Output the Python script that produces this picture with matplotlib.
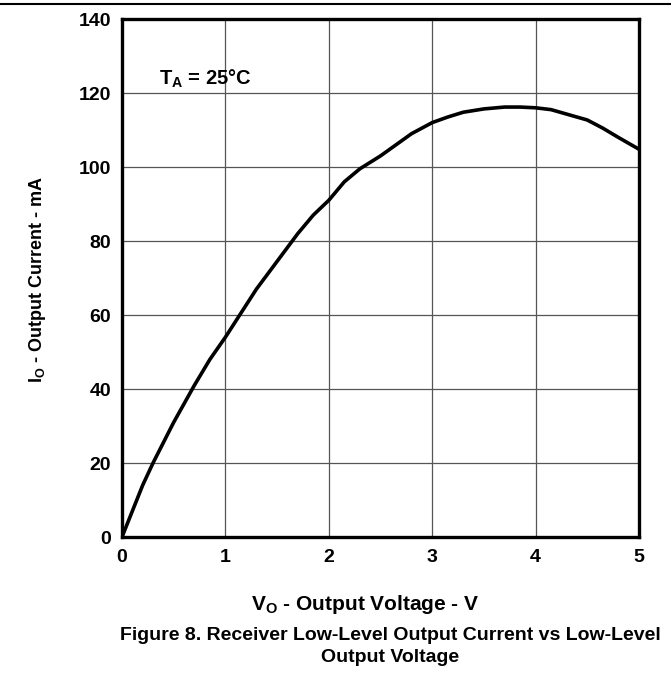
import matplotlib
matplotlib.use("Agg")
import matplotlib.pyplot as plt
from matplotlib.lines import Line2D

plt.rcParams['font.family'] = ['Liberation Sans', 'DejaVu Sans']
plt.rcParams['mathtext.fontset'] = 'custom'
plt.rcParams['mathtext.rm'] = 'Liberation Sans:bold'
plt.rcParams['mathtext.it'] = 'Liberation Sans:bold'
plt.rcParams['mathtext.bf'] = 'Liberation Sans:bold'

voltage = [0.0, 0.1, 0.2, 0.3, 0.5, 0.7, 0.85, 1.0, 1.15, 1.3, 1.5, 1.7, 1.85, 2.0, 2.15, 2.3,
           2.5, 2.65, 2.8, 3.0, 3.15, 3.3, 3.5, 3.7, 3.85, 4.0, 4.15, 4.3, 4.5, 4.65, 4.8, 5.0]
current = [0.0, 7.0, 14.0, 20.0, 31.0, 41.0, 48.0, 54.0, 60.5, 67.0, 74.5, 82.0, 87.0, 91.0, 96.0, 99.5,
           103.0, 106.0, 109.0, 112.0, 113.5, 114.8, 115.7, 116.2, 116.2, 116.0, 115.5, 114.3, 112.7, 110.5, 108.0, 104.8]

xticks = [0, 1, 2, 3, 4, 5]
yticks = [0, 20, 40, 60, 80, 100, 120, 140]

fig = plt.figure(figsize=(6.71, 6.81), dpi=100)
ax = fig.add_axes([122/671, 1-537/681, (639-122)/671, (537-19)/681])

ax.plot(voltage, current, color='black', lw=2.6, solid_capstyle='round', solid_joinstyle='round', zorder=3)

ax.set_xlim(0, 5)
ax.set_ylim(0, 140)
ax.set_xticks(xticks)
ax.set_yticks(yticks)
ax.set_xticklabels([str(t) for t in xticks], fontsize=14, fontweight='bold')
ax.set_yticklabels([str(t) for t in yticks], fontsize=14, fontweight='bold')
ax.tick_params(axis='x', length=0, pad=9)
ax.tick_params(axis='y', length=0, pad=8)
ax.grid(True, color='#555555', lw=0.9)
ax.set_axisbelow(True)
for s in ax.spines.values():
    s.set_linewidth(2.4)

ax.text(0.072, 0.885, r'T$_\mathregular{A}$ = 25°C', transform=ax.transAxes,
        fontsize=14.5, fontweight='bold', va='center', ha='left')

fig.text(38/671, 1-280/681, r'I$_\mathregular{O}$ - Output Current - mA', rotation=90,
         fontsize=13, fontweight='bold', ha='center', va='center')
fig.text(365/671, 1-604/681, r'V$_\mathregular{O}$ - Output Voltage - V',
         fontsize=15, fontweight='bold', ha='center', va='center')
fig.text(390/671, 1-635/681, 'Figure 8. Receiver Low-Level Output Current vs Low-Level',
         fontsize=14, fontweight='bold', ha='center', va='center')
fig.text(390/671, 1-658/681, 'Output Voltage',
         fontsize=14, fontweight='bold', ha='center', va='center')

fig.add_artist(Line2D([0, 1], [1-4/681, 1-4/681], transform=fig.transFigure, color='black', lw=1.5))

fig.savefig('out.png', dpi=100)
